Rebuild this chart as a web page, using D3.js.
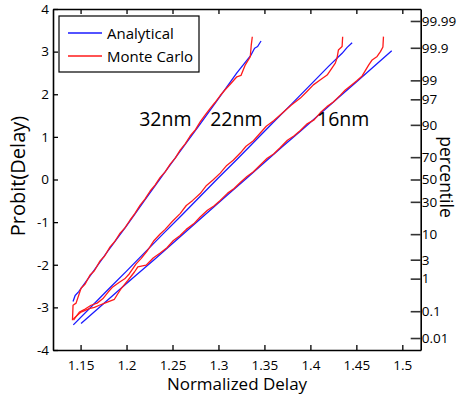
<!DOCTYPE html>
<html><head><meta charset="utf-8">
<script src="https://cdnjs.cloudflare.com/ajax/libs/d3/7.8.5/d3.min.js"></script>
<style>body{margin:0;background:#fff}svg{display:block;font-family:"Open Sans",sans-serif}</style>
</head><body><svg id="c" width="459" height="398"></svg>
<script>
// ---- data (x = normalized delay, y = probit) ----
const xTicks = [1.15,1.2,1.25,1.3,1.35,1.4,1.45,1.5];
const xTickLabels = ["1.15","1.2","1.25","1.3","1.35","1.4","1.45","1.5"];
const yTicks = [-4,-3,-2,-1,0,1,2,3,4];
const yTickLabels = ["-4","-3","-2","-1","0","1","2","3","4"];
const pctLabels = ["99.99","99.9","99","97","90","70","50","30","10","3","1","0.1","0.01"];
const pctProbit = [3.719,3.090,2.326,1.881,1.282,0.524,0,-0.524,-1.282,-1.881,-2.326,-3.090,-3.719];
const seriesNames = ["Analytical","Monte Carlo"];
const nodeLabels = ["32nm","22nm","16nm"];

const blue32 = [[1.1418,-2.86],[1.1441,-2.72],[1.1480,-2.63],[1.1600,-2.27],[1.1800,-1.67],[1.2000,-1.09],[1.2200,-0.48],[1.2400,0.12],[1.2600,0.71],[1.2800,1.30],[1.3000,1.90],[1.3200,2.50],[1.3354,2.92],[1.3393,3.08],[1.3426,3.12],[1.3463,3.25]];
const red32 = [[1.1412,-3.30],[1.1418,-2.95],[1.1451,-2.90],[1.1505,-2.55],[1.1550,-2.45],[1.1603,-2.24],[1.1650,-2.14],[1.1712,-1.91],[1.1760,-1.80],[1.1821,-1.58],[1.1870,-1.46],[1.1930,-1.26],[1.1980,-1.14],[1.2039,-0.95],[1.2090,-0.80],[1.2148,-0.60],[1.2200,-0.46],[1.2257,-0.27],[1.2310,-0.13],[1.2366,0.05],[1.2420,0.18],[1.2475,0.36],[1.2530,0.50],[1.2583,0.69],[1.2640,0.84],[1.2692,1.02],[1.2750,1.17],[1.2801,1.35],[1.2850,1.50],[1.2910,1.67],[1.2960,1.80],[1.3019,1.97],[1.3070,2.10],[1.3128,2.235],[1.3200,2.41],[1.3245,2.44],[1.3292,2.69],[1.3346,2.88],[1.3357,3.16],[1.3368,3.35]];

const blue22 = [[1.1421,-3.41],[1.1600,-3.02],[1.1800,-2.58],[1.2000,-2.15],[1.2200,-1.71],[1.2400,-1.27],[1.2600,-0.84],[1.2800,-0.40],[1.3000,0.04],[1.3200,0.47],[1.3400,0.91],[1.3600,1.35],[1.3800,1.78],[1.4000,2.22],[1.4200,2.66],[1.4345,2.96],[1.4400,3.10],[1.4454,3.21]];
const red22 = [[1.1423,-3.30],[1.1487,-3.11],[1.1550,-3.04],[1.1614,-2.95],[1.1680,-2.90],[1.1741,-2.80],[1.1800,-2.64],[1.1850,-2.52],[1.1922,-2.41],[1.1980,-2.33],[1.2031,-2.21],[1.2104,-1.98],[1.2160,-1.85],[1.2230,-1.66],[1.2300,-1.43],[1.2366,-1.28],[1.2420,-1.17],[1.2500,-0.98],[1.2583,-0.80],[1.2650,-0.61],[1.2720,-0.49],[1.2801,-0.33],[1.2870,-0.14],[1.2940,-0.01],[1.3019,0.15],[1.3090,0.33],[1.3160,0.45],[1.3237,0.62],[1.3300,0.78],[1.3380,0.91],[1.3455,1.09],[1.3520,1.25],[1.3600,1.38],[1.3705,1.58],[1.3790,1.74],[1.3891,1.91],[1.3960,2.06],[1.4032,2.22],[1.4109,2.34],[1.4182,2.45],[1.4236,2.62],[1.4271,2.73],[1.4290,2.85],[1.4305,3.04],[1.4345,3.12],[1.4351,3.35]];

const blue16 = [[1.1505,-3.38],[1.1700,-3.01],[1.1900,-2.63],[1.2100,-2.25],[1.2300,-1.88],[1.2500,-1.50],[1.2700,-1.12],[1.2900,-0.74],[1.3100,-0.36],[1.3300,0.02],[1.3500,0.40],[1.3700,0.78],[1.3900,1.15],[1.4100,1.53],[1.4300,1.91],[1.4500,2.29],[1.4700,2.67],[1.4885,3.02]];
const red16 = [[1.1421,-3.27],[1.1505,-3.11],[1.1595,-3.03],[1.1650,-3.00],[1.1704,-2.95],[1.1777,-2.89],[1.1868,-2.81],[1.1905,-2.68],[1.1941,-2.56],[1.2014,-2.37],[1.2086,-2.17],[1.2123,-2.05],[1.2213,-2.01],[1.2290,-1.84],[1.2366,-1.725],[1.2440,-1.60],[1.2510,-1.43],[1.2583,-1.315],[1.2650,-1.17],[1.2730,-1.04],[1.2801,-0.88],[1.2880,-0.72],[1.2950,-0.62],[1.3019,-0.49],[1.3100,-0.32],[1.3170,-0.21],[1.3237,-0.07],[1.3310,0.07],[1.3380,0.18],[1.3455,0.34],[1.3530,0.50],[1.3600,0.60],[1.3673,0.75],[1.3750,0.92],[1.3820,1.02],[1.3891,1.15],[1.3960,1.30],[1.4040,1.40],[1.4109,1.57],[1.4180,1.71],[1.4250,1.82],[1.4326,1.98],[1.4380,2.10],[1.4435,2.195],[1.4508,2.324],[1.4563,2.43],[1.4599,2.559],[1.4635,2.688],[1.4672,2.805],[1.4726,2.887],[1.4762,3.00],[1.4789,3.11],[1.4795,3.352]];

const labelPos = [[1.2137,1.25],[1.2910,1.25],[1.4072,1.25]];

// ---- drawing ----
const svg = d3.select("#c");
const L = 53, R = 420.7, T = 9, B = 350;
const x = d3.scaleLinear().domain([1.12,1.52]).range([L,R]);
const y = d3.scaleLinear().domain([-4,4]).range([B,T]);
const BLUE = "#1a1aff", RED = "#ff1a1a";

const line = d3.line().x(d=>x(d[0])).y(d=>y(d[1]));
[[blue32,BLUE],[blue22,BLUE],[blue16,BLUE],[red32,RED],[red22,RED],[red16,RED]].forEach(([d,c])=>{
  svg.append("path").attr("d",line(d)).attr("fill","none").attr("stroke",c).attr("stroke-width",1.3).attr("stroke-linejoin","round");
});

// axes
const gB = svg.append("g").attr("transform",`translate(0,${B})`).call(d3.axisBottom(x).tickValues(xTicks).tickFormat((v,i)=>xTickLabels[i]).tickSizeInner(-5).tickSizeOuter(0).tickPadding(10));
const gT = svg.append("g").attr("transform",`translate(0,${T})`).call(d3.axisTop(x).tickValues(xTicks).tickFormat("").tickSizeInner(-5).tickSizeOuter(0));
const gL = svg.append("g").attr("transform",`translate(${L},0)`).call(d3.axisLeft(y).tickValues(yTicks).tickFormat((v,i)=>yTickLabels[i]).tickSizeInner(-5).tickSizeOuter(0).tickPadding(5));
const yPct = d3.scaleLinear().domain(y.domain()).range(y.range());
const gR = svg.append("g").attr("transform",`translate(${R},0)`).call(d3.axisRight(yPct).tickValues(pctProbit).tickFormat((v,i)=>pctLabels[i]).tickSizeInner(-10).tickSizeOuter(0).tickPadding(3));
[gB,gT,gL,gR].forEach(g=>{
  g.select(".domain").attr("stroke","#000").attr("stroke-width",1.6);
  g.selectAll(".tick line").attr("stroke","#000").attr("stroke-width",1.3);
  g.selectAll("text").attr("font-family","Open Sans").attr("font-size",13.5).attr("fill","#000");
});
gR.selectAll(".tick line").attr("stroke","#333").attr("stroke-width",1.6);
gR.selectAll("text").attr("dx",-2);
gL.selectAll("text").attr("dx",1);
gB.selectAll("text").attr("dy","0.71em");

// axis titles
svg.append("text").attr("x",237).attr("y",390).attr("text-anchor","middle").attr("font-size",17).text("Normalized Delay");
svg.append("text").attr("transform","translate(25,176) rotate(-90)").attr("text-anchor","middle").attr("font-size",20).text("Probit(Delay)");
svg.append("text").attr("transform","translate(440,177) rotate(90)").attr("text-anchor","middle").attr("font-size",17.5).text("percentile");

// node labels
nodeLabels.forEach((t,i)=>{
  svg.append("text").attr("x",x(labelPos[i][0])).attr("y",y(labelPos[i][1])).attr("font-size",19.5).text(t);
});

// legend
const lg = svg.append("g");
lg.append("rect").attr("x",59).attr("y",16).attr("width",140).attr("height",56).attr("fill","#fff").attr("stroke","#000").attr("stroke-width",1.2);
[[BLUE,33],[RED,56]].forEach(([c,yy],i)=>{
  lg.append("line").attr("x1",68).attr("x2",102).attr("y1",yy).attr("y2",yy).attr("stroke",c).attr("stroke-width",1.3);
  lg.append("text").attr("x",107).attr("y",yy+5.5).attr("font-size",15).text(seriesNames[i]);
});
</script></body></html>
